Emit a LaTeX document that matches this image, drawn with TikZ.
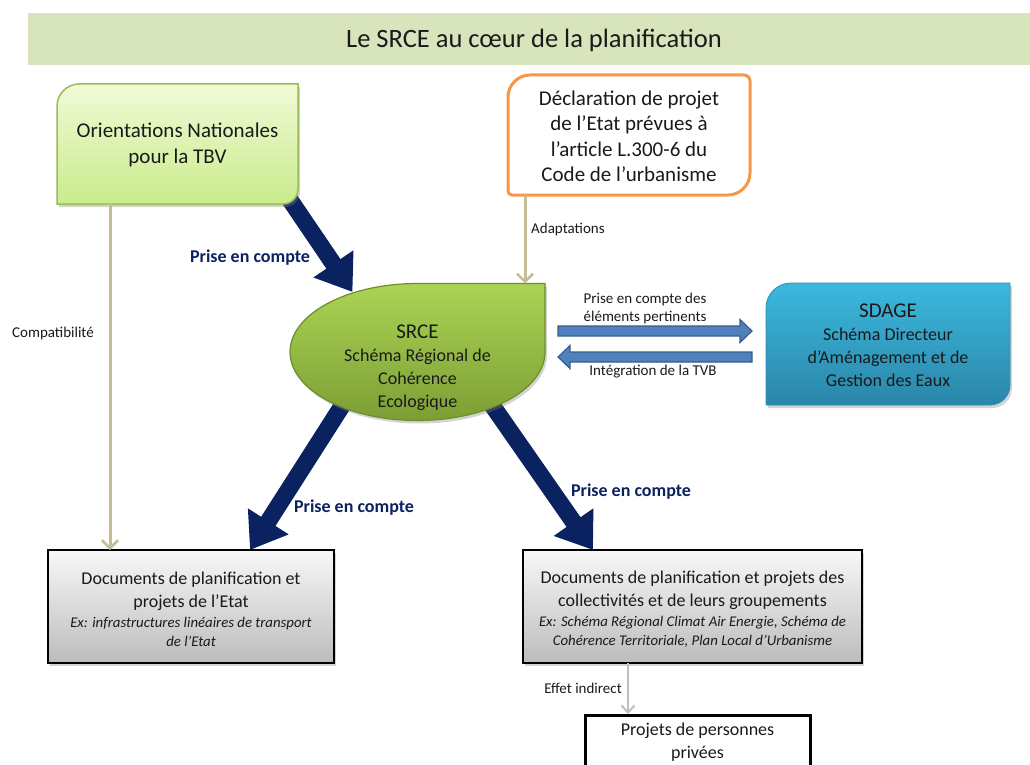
\documentclass[tikz,border=0pt]{standalone}
\usepackage{fontspec}
\setmainfont{Carlito}
\usetikzlibrary{arrows.meta,shadows,calc}
\definecolor{titlebg}{HTML}{D8E4BC}
\definecolor{orTop}{HTML}{F1FAD6}
\definecolor{orBot}{HTML}{C9EC8C}
\definecolor{orLine}{HTML}{9BBB59}
\definecolor{declOrange}{HTML}{F79646}
\definecolor{srTop}{HTML}{ABD455}
\definecolor{srBot}{HTML}{7C9E34}
\definecolor{srLine}{HTML}{6E8E2C}
\definecolor{sdTop}{HTML}{3CB8DE}
\definecolor{sdBot}{HTML}{2A86A9}
\definecolor{sdLine}{HTML}{2F8DB1}
\definecolor{barFill}{HTML}{4F81BD}
\definecolor{barLine}{HTML}{385D8A}
\definecolor{navy}{HTML}{0B2261}
\definecolor{tanline}{HTML}{C4BD97}
\definecolor{effGray}{HTML}{BFBFBF}
\definecolor{docTop}{HTML}{F8F8F8}
\definecolor{docBot}{HTML}{BCBCBC}
\definecolor{ink}{HTML}{1A1A1A}
\newcommand{\exline}{\fontsize{14.8}{19}\selectfont\itshape}
\tikzset{
  shd/.style={drop shadow={shadow xshift=2pt,shadow yshift=-3pt,opacity=0.35}},
  anchorbox/.style={inner sep=0pt, outer sep=0pt},
  bigtxt/.style={align=center, inner sep=0pt, text=ink, font=\fontsize{21}{25.5}\selectfont},
  midtxt/.style={align=center, inner sep=0pt, text=ink, font=\fontsize{18}{23}\selectfont},
  smtxt/.style={inner sep=0pt, text=ink, font=\fontsize{15}{18}\selectfont},
  pctxt/.style={inner sep=0pt, text=navy, font=\bfseries\fontsize{18}{21}\selectfont},
  navyarrow/.style={draw=navy, line width=17pt, -{Triangle[width=46pt,length=34pt]}},
  tanarrow/.style={draw=tanline, line width=3pt, -{Straight Barb[length=8pt,width=16pt,line width=2.5pt]}},
  grayarrow/.style={draw=effGray, line width=2pt, -{Straight Barb[length=7pt,width=13pt,line width=2pt]}},
  bluebar/.style={fill=barFill, draw=barLine, line width=1.2pt, line join=miter},
  docbox/.style={draw=black, line width=1.2pt, top color=docTop, bottom color=docBot, shd, inner sep=0pt, outer sep=0pt},
}
\begin{document}
\begin{tikzpicture}[x=1pt,y=-1pt]
\useasboundingbox (0,0) rectangle (1030,765);

% anchor nodes (box extents)
\node[anchorbox, minimum width=241pt, minimum height=120pt] (orient) at (177.5,144) {};
\node[anchorbox, minimum width=242pt, minimum height=120pt] (decl) at (629,135) {};
\node[anchorbox, minimum width=255pt, minimum height=137pt] (srce) at (417.5,352) {};
\node[anchorbox, minimum width=244pt, minimum height=122pt] (sdage) at (888,344) {};

% title
\fill[titlebg] (28,13) rectangle (1030,65);
\node[inner sep=0pt, text=ink, font=\fontsize{26.5}{31}\selectfont] (title) at (534,40) {Le SRCE au cœur de la planification};

% bottom boxes
\node[docbox, minimum width=286pt, minimum height=113pt] (docL) at (191,606.5) {};
\node[docbox, minimum width=339pt, minimum height=113pt] (docR) at (692.5,606.5) {};
\begin{scope}
\clip (0,0) rectangle (1030,765);
\node[draw=black, line width=3pt, fill=white, inner sep=0pt, minimum width=225pt, minimum height=70pt, anchor=north] (proj) at (697.5,714) {};
\end{scope}

% navy block arrows (drawn under the shapes)
\draw[navyarrow] ($(orient.south east)+(-12,-10)$) -- ($(srce.north west)+(62.5,8.5)$);
\draw[navyarrow] ($(srce.south)+(-68.5,-25.5)$) -- ($(docL.north)+(59,0)$);
\draw[navyarrow] ($(srce.south)+(67.5,-25.5)$) -- ($(docR.north)+(-99.5,0)$);

% Orientations box
\path[draw=orLine, line width=1.5pt, top color=orTop, bottom color=orBot, shd]
  (57,204) -- (57,106) .. controls (57,94) and (67,84) .. (79,84) -- (298,84) -- (298,189)
  .. controls (298,197.3) and (291.3,204) .. (283,204) -- cycle;
\node[bigtxt] (orientT) at (177.5,145) {Orientations Nationales\\pour la TBV};

% Declaration box
\path[draw=declOrange, line width=3pt, fill=white]
  (508,97) .. controls (508,85) and (518,75) .. (530,75) -- (744,75)
  .. controls (747.3,75) and (750,77.7) .. (750,81) -- (750,173)
  .. controls (750,185) and (740,195) .. (728,195) -- (512,195)
  .. controls (509.8,195) and (508,193.2) .. (508,191) -- cycle;
\node[bigtxt] (declT) at (629,136.5) {Déclaration de projet\\de l’Etat prévues à\\l’article L.300-6 du\\Code de l’urbanisme};

% SRCE drop shape
\path[draw=srLine, line width=1.2pt, top color=srTop, bottom color=srBot, shd]
  (545,283.5) -- (545,352) arc[start angle=0, end angle=270, x radius=127.5, y radius=68.5] -- cycle;
\node[midtxt] (srceT) at (417.5,368) {{\fontsize{21}{25}\selectfont SRCE}\\Schéma Régional de\\Cohérence\\Ecologique};

% SDAGE box
\path[draw=sdLine, line width=0.8pt, top color=sdTop, bottom color=sdBot, shd]
  (766,405) -- (766,308) .. controls (766,294.2) and (777.2,283) .. (791,283) -- (1010,283) -- (1010,385)
  .. controls (1010,396) and (1001,405) .. (990,405) -- cycle;
\node[midtxt] (sdageT) at (888,345.5) {{\fontsize{21}{25}\selectfont SDAGE}\\Schéma Directeur\\d’Aménagement et de\\Gestion des Eaux};

% SRCE <-> SDAGE block arrows
\coordinate (r1s) at ($(srce.east)+(13,-21)$);
\coordinate (r1e) at ($(sdage.west)+(-14,-13)$);
\coordinate (l1s) at ($(sdage.west)+(-14,13)$);
\coordinate (l1e) at ($(srce.east)+(13,5)$);
\draw[bluebar] ($(r1s)+(0,-5)$) -- ($(r1e)+(-12,-5)$) -- ($(r1e)+(-12,-11.5)$) -- (r1e)
  -- ($(r1e)+(-12,11.5)$) -- ($(r1e)+(-12,5)$) -- ($(r1s)+(0,5)$) -- cycle;
\draw[bluebar] ($(l1s)+(0,-5)$) -- ($(l1e)+(12,-5)$) -- ($(l1e)+(12,-11.5)$) -- (l1e)
  -- ($(l1e)+(12,11.5)$) -- ($(l1e)+(12,5)$) -- ($(l1s)+(0,5)$) -- cycle;
\node[smtxt, align=center] (lblPC) at (645,308) {Prise en compte des\\éléments pertinents};
\node[smtxt] (lblInt) at (653,372) {Intégration de la TVB};

% tan arrows
\draw[tanarrow] ($(orient.south)+(-67.5,0)$) -- ($(docL.north)+(-81,0)$);
\draw[tanarrow] ($(decl.south)+(-104,0)$) -- ($(srce.north)+(107.5,0)$);
\node[smtxt] (lblComp) at (53,333) {Compatibilité};
\node[smtxt, anchor=west] (lblAdapt) at (531,229) {Adaptations};

% Prise en compte labels
\node[pctxt] (pc1) at (250,258) {Prise en compte};
\node[pctxt] (pc2) at (354,508) {Prise en compte};
\node[pctxt] (pc3) at (631,492) {Prise en compte};

% document texts
\node[midtxt] (docLT) at (191,609)
  {Documents de planification et\\projets de l’Etat\\[-3pt]
   {\exline Ex: infrastructures linéaires de transport}\\[-4pt]{\exline de l’Etat}};
\node[midtxt] (docRT) at (692.5,609)
  {Documents de planification et projets des\\collectivités et de leurs groupements\\[-3pt]
   {\exline Ex: Schéma Régional Climat Air Energie, Schéma de}\\[-4pt]{\exline Cohérence Territoriale, Plan Local d’Urbanisme}};

% effet indirect
\draw[grayarrow] ($(docR.south)+(-64.5,0)$) -- ($(proj.north)+(-69.5,0)$);
\node[smtxt, anchor=east] (lblEff) at (622,688) {Effet indirect};
\node[midtxt] (projT) at (697.5,742.5) {Projets de personnes\\privées};
\end{tikzpicture}
\end{document}
